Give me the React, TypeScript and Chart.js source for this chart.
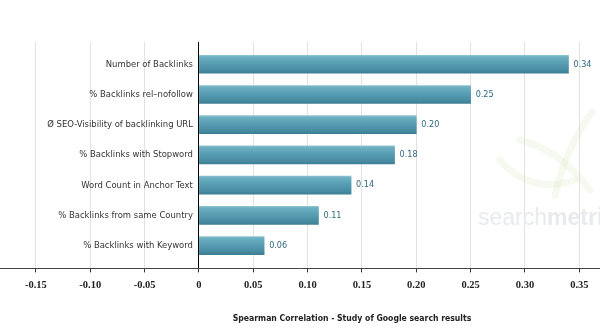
import { useEffect, useRef } from 'react';
import { Chart, registerables } from 'chart.js';
Chart.register(...registerables);

const categories = [
  'Number of Backlinks',
  '% Backlinks rel\u2013nofollow',
  '\u00d8 SEO-Visibility of backlinking URL',
  '% Backlinks with Stopword',
  'Word Count in Anchor Text',
  '% Backlinks from same Country',
  '% Backlinks with Keyword',
];
const correlations = [0.34, 0.25, 0.2, 0.18, 0.14, 0.11, 0.06];
const xMin = -0.183;
const xMax = 0.369;
const xStep = 0.05;
const chartTitle = 'Spearman Correlation - Study of Google search results';
const watermarkParts = ['search', 'metrics'];

const LABEL_FONT = '9.4px "DejaVu Sans Condensed"';
const VALUE_FONT = '9px "DejaVu Sans Condensed"';
const BAR_THICKNESS = 18;

const textPlugin = {
  id: 'textPlugin',
  beforeDatasetsDraw(chart: any) {
    const { ctx } = chart;
    ctx.save();
    ctx.strokeStyle = 'rgba(200,220,160,0.16)';
    ctx.lineWidth = 7;
    ctx.lineCap = 'round';
    ctx.beginPath();
    ctx.moveTo(500, 160);
    ctx.quadraticCurveTo(530, 195, 575, 180);
    ctx.stroke();
    ctx.beginPath();
    ctx.moveTo(555, 195);
    ctx.quadraticCurveTo(565, 150, 592, 112);
    ctx.stroke();
    ctx.beginPath();
    ctx.moveTo(520, 140);
    ctx.quadraticCurveTo(560, 150, 590, 190);
    ctx.stroke();
    ctx.fillStyle = '#e8ebed';
    ctx.textBaseline = 'alphabetic';
    ctx.textAlign = 'left';
    ctx.font = '23px "Liberation Sans"';
    ctx.fillText(watermarkParts[0], 478, 225);
    const w = ctx.measureText(watermarkParts[0]).width;
    ctx.font = 'bold 23px "Liberation Sans"';
    ctx.fillText(watermarkParts[1], 478 + w, 225);
    ctx.restore();
  },
  afterDatasetsDraw(chart: any) {
    const { ctx, scales } = chart;
    const xs = scales.x;
    const ys = scales.y;
    const zero = xs.getPixelForValue(0);
    ctx.save();
    ctx.textBaseline = 'middle';
    ctx.font = LABEL_FONT;
    ctx.fillStyle = '#333';
    ctx.textAlign = 'right';
    categories.forEach((c, i) => ctx.fillText(c, zero - 6, ys.getPixelForValue(i)));
    ctx.font = VALUE_FONT;
    ctx.fillStyle = '#2e6a80';
    ctx.textAlign = 'left';
    const meta = chart.getDatasetMeta(0);
    correlations.forEach((v, i) => {
      const el = meta.data[i];
      ctx.fillText(v.toFixed(2), el.x + 5, el.y);
    });
    ctx.font = 'bold 8.6px "DejaVu Sans Condensed"';
    ctx.fillStyle = '#222';
    ctx.textAlign = 'center';
    ctx.fillText(chartTitle, 352, 319);
    ctx.restore();
  },
};

export default function App() {
  const ref = useRef<HTMLCanvasElement>(null);
  useEffect(() => {
    document.body.style.margin = '0';
    const chart = new Chart(ref.current!, {
      type: 'bar',
      data: {
        datasets: [{
          data: correlations.map((v, i) => ({ x: v, y: i })),
          backgroundColor: (ctx: any) => {
            const chart = ctx.chart;
            const ys = chart.scales && chart.scales.y;
            if (!ys || ctx.dataIndex === undefined) return '#4f9ab0';
            const cy = ys.getPixelForValue(ctx.dataIndex);
            if (!Number.isFinite(cy)) return '#4f9ab0';
            const h = BAR_THICKNESS / 2;
            const g = chart.ctx.createLinearGradient(0, cy - h, 0, cy + h);
            g.addColorStop(0, '#8cc4d2');
            g.addColorStop(0.08, '#6fb0c2');
            g.addColorStop(0.4, '#5aa0b5');
            g.addColorStop(0.85, '#478ba1');
            g.addColorStop(1, '#3d7e93');
            return g;
          },
          borderWidth: 0,
          barThickness: BAR_THICKNESS,
        }],
      },
      options: {
        indexAxis: 'y',
        animation: false,
        responsive: false,
        layout: { padding: { top: 42, bottom: 30, left: 0, right: 0 } },
        plugins: { legend: { display: false }, tooltip: { enabled: false } },
        scales: {
          x: {
            type: 'linear', min: xMin, max: xMax,
            ticks: {
              stepSize: xStep, includeBounds: false,
              callback: (v: any) => (Math.abs(v) < 1e-9 ? '0' : Number(v).toFixed(2)),
              font: { family: 'Liberation Serif', weight: 'bold', size: 10.5 }, color: '#222', padding: 7, maxRotation: 0,
            },
            grid: {
              color: (ctx: any) => (ctx.tick && Math.abs(ctx.tick.value) < 1e-9 ? '#000' : '#e2e2e2'),
              tickLength: 4, tickColor: '#333',
            },
            border: { color: '#444' },
          },
          y: {
            type: 'linear', reverse: true, min: -0.736, max: 6.756, display: false,
            offset: false, grid: { offset: false },
          },
        },
      },
      plugins: [textPlugin],
    });
    return () => chart.destroy();
  }, []);
  return (
    <div style={{ width: 600, height: 329 }}>
      <canvas ref={ref} width={600} height={329} />
    </div>
  );
}
